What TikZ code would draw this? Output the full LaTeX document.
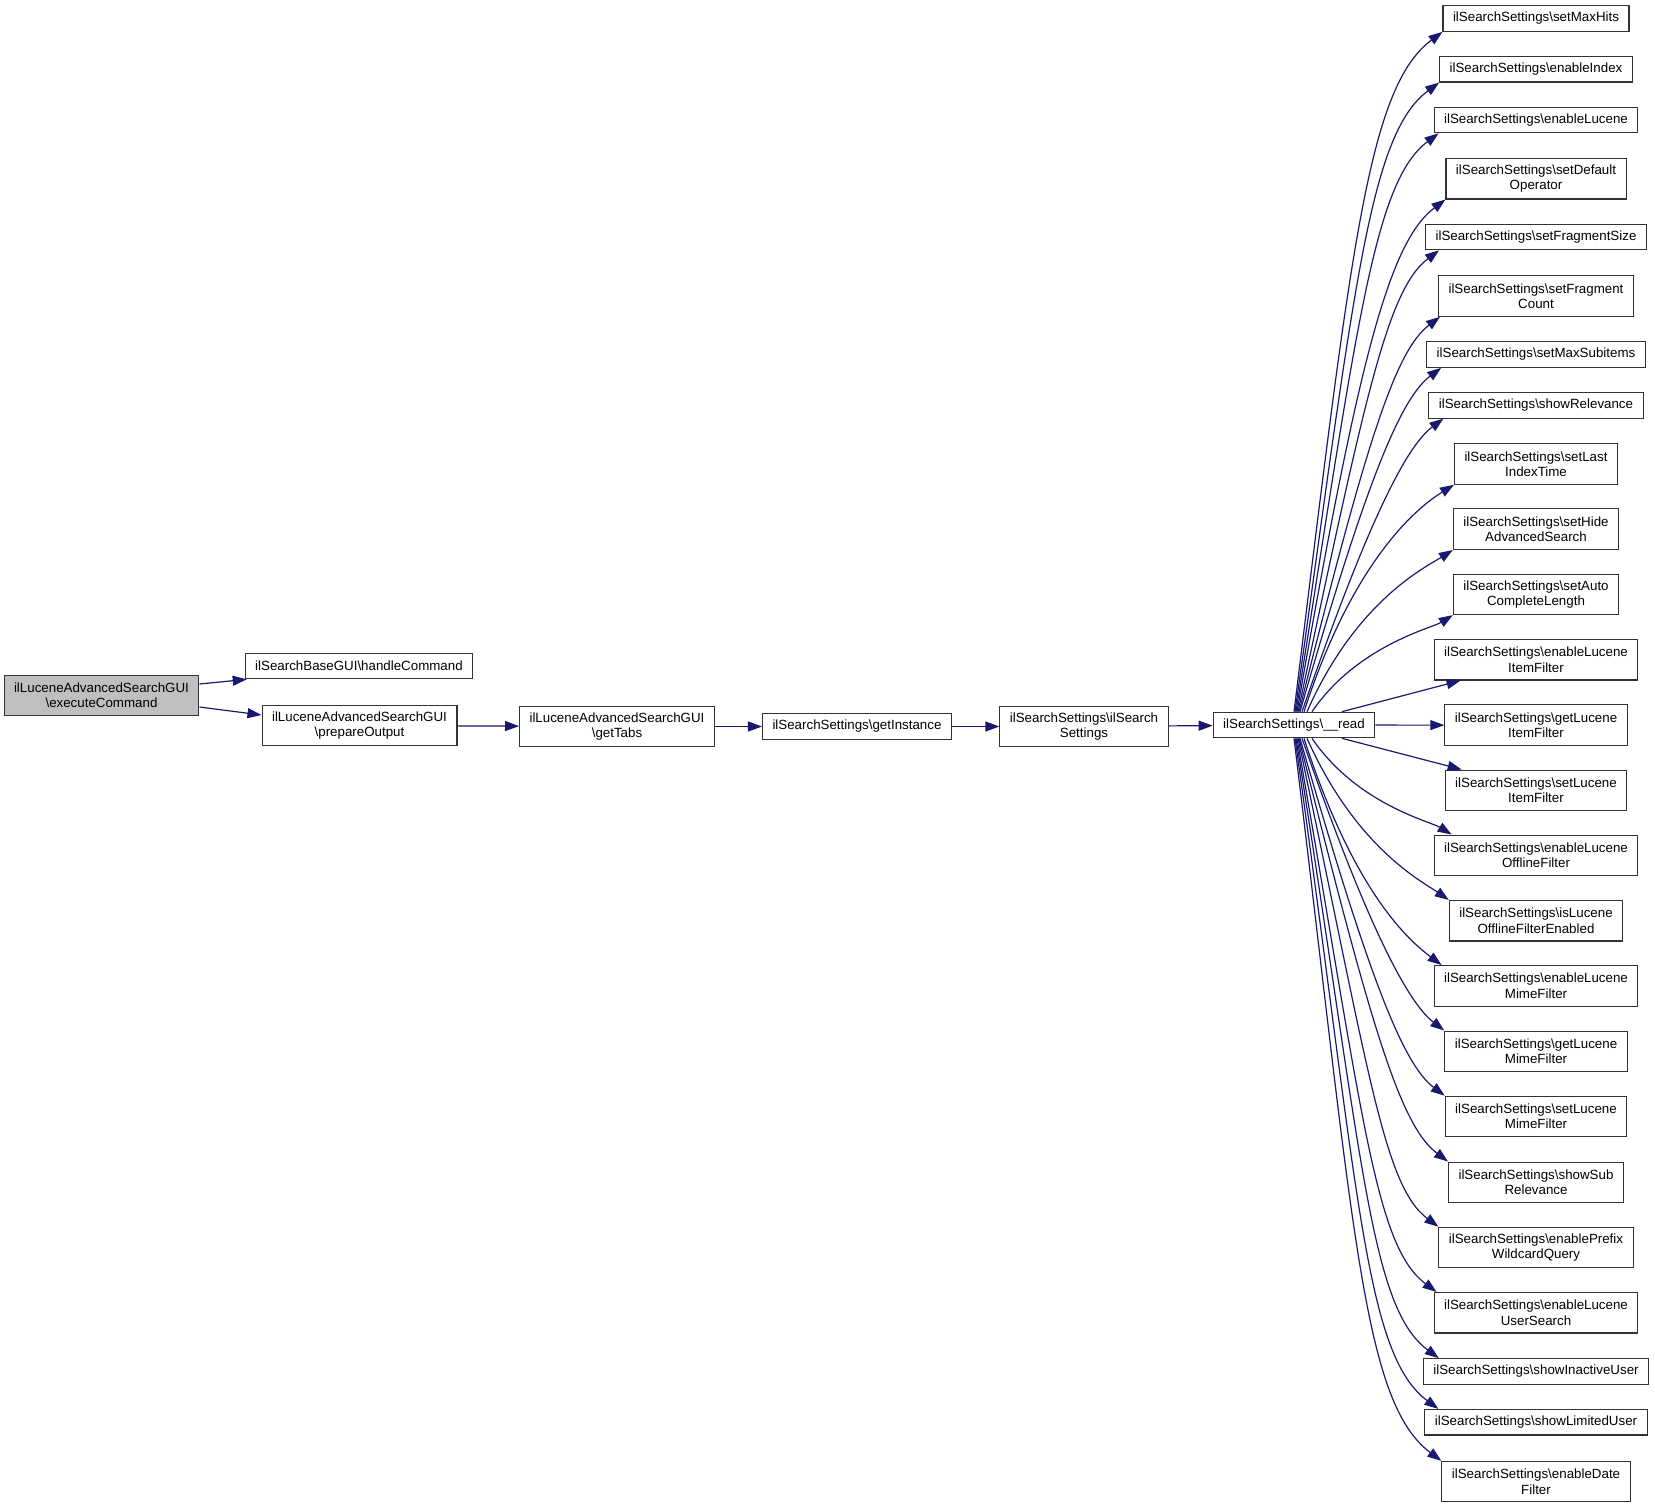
\documentclass[tikz,border=0pt]{standalone}
\usepackage{fontspec}
\setmainfont{Liberation Sans}
\usetikzlibrary{arrows.meta,calc}

\definecolor{callblue}{HTML}{191970}
\definecolor{rootgray}{HTML}{BFBFBF}

\begin{document}
\begin{tikzpicture}[x=0.75pt, y=-0.75pt,
    fn/.style={draw=black!80, line width=0.8pt, align=center, inner xsep=7.5pt, inner ysep=2pt,
      minimum height=19.2pt, font=\fontsize{10}{11.5}\selectfont},
    fn2/.style={fn, minimum height=30.4pt},
    call/.style={draw=callblue, line width=0.9pt, -{Triangle[length=10.5pt,width=7.5pt]}}]

    \useasboundingbox (0,0) rectangle (1655,1507);

    % Draw the caller and its two callees
    \node[fn2, fill=rootgray] (exec) at (101.5,695.5) {ilLuceneAdvancedSearchGUI\\\textbackslash executeCommand};
    \node[fn] (handle) at (359,666) {ilSearchBaseGUI\textbackslash handleCommand};
    \node[fn2] (prepare) at (359.5,725.5) {ilLuceneAdvancedSearchGUI\\\textbackslash prepareOutput};

    % Draw the chain down to __read
    \node[fn2] (tabs) at (617,726.5) {ilLuceneAdvancedSearchGUI\\\textbackslash getTabs};
    \node[fn] (inst) at (857,726.5) {ilSearchSettings\textbackslash getInstance};
    \node[fn2] (ctor) at (1084,726.5) {ilSearchSettings\textbackslash ilSearch\\Settings};
    \node[fn] (read) at (1294,725) {ilSearchSettings\textbackslash \_\_read};

    % Draw the column of settings methods
    \foreach \n/\y/\h/\lbl in {
      setMaxHits/18.5/19.2/{ilSearchSettings\textbackslash setMaxHits},
      enableIndex/69.2/19.2/{ilSearchSettings\textbackslash enableIndex},
      enableLucene/120/19.2/{ilSearchSettings\textbackslash enableLucene},
      setDefaultOperator/178.7/30.4/{ilSearchSettings\textbackslash setDefault\\Operator},
      setFragmentSize/237/19.2/{ilSearchSettings\textbackslash setFragmentSize},
      setFragmentCount/296/30.4/{ilSearchSettings\textbackslash setFragment\\Count},
      setMaxSubitems/354.5/19.2/{ilSearchSettings\textbackslash setMaxSubitems},
      showRelevance/405.3/19.2/{ilSearchSettings\textbackslash showRelevance},
      setLastIndexTime/464/30.4/{ilSearchSettings\textbackslash setLast\\IndexTime},
      setHideAdvancedSearch/529.2/30.4/{ilSearchSettings\textbackslash setHide\\AdvancedSearch},
      setAutoCompleteLength/594.3/30.4/{ilSearchSettings\textbackslash setAuto\\CompleteLength},
      enableLuceneItemFilter/659.7/30.4/{ilSearchSettings\textbackslash enableLucene\\ItemFilter},
      getLuceneItemFilter/725.2/30.4/{ilSearchSettings\textbackslash getLucene\\ItemFilter},
      setLuceneItemFilter/790.3/30.4/{ilSearchSettings\textbackslash setLucene\\ItemFilter},
      enableLuceneOfflineFilter/855.3/30.4/{ilSearchSettings\textbackslash enableLucene\\OfflineFilter},
      isLuceneOfflineFilterEnabled/920.7/30.4/{ilSearchSettings\textbackslash isLucene\\OfflineFilterEnabled},
      enableLuceneMimeFilter/985.8/30.4/{ilSearchSettings\textbackslash enableLucene\\MimeFilter},
      getLuceneMimeFilter/1051.3/30.4/{ilSearchSettings\textbackslash getLucene\\MimeFilter},
      setLuceneMimeFilter/1116.5/30.4/{ilSearchSettings\textbackslash setLucene\\MimeFilter},
      showSubRelevance/1182.3/30.4/{ilSearchSettings\textbackslash showSub\\Relevance},
      enablePrefixWildcardQuery/1247.5/30.4/{ilSearchSettings\textbackslash enablePrefix\\WildcardQuery},
      enableLuceneUserSearch/1312.7/30.4/{ilSearchSettings\textbackslash enableLucene\\UserSearch},
      showInactiveUser/1371.5/19.2/{ilSearchSettings\textbackslash showInactiveUser},
      showLimitedUser/1422.2/19.2/{ilSearchSettings\textbackslash showLimitedUser},
      enableDateFilter/1481.6/30.4/{ilSearchSettings\textbackslash enableDate\\Filter}}
      \node[fn, minimum height=\h pt] (\n) at (1536,\y) {\lbl};

    % Draw the calls along the chain
    \draw[call] ($(exec.east)+(0,-11.5)$) -- ($(handle.south west)+(2,0)$);
    \draw[call] ($(exec.east)+(0,11.5)$) -- ($(prepare.west)+(0,-10.5)$);
    \draw[call] (prepare) -- (tabs);
    \draw[call] (tabs) -- (inst);
    \draw[call] (inst) -- (ctor);
    \draw[call] (ctor) -- (read);

    % Draw the three straight calls out of __read
    \draw[call] (read) -- (getLuceneItemFilter);
    \draw[call] ($(read.north)+(48,0)$) -- ($(enableLuceneItemFilter.south west)+(27,0)$);
    \draw[call] ($(read.south)+(48,0)$) -- ($(setLuceneItemFilter.north west)+(17,0)$);

    % Draw the fan of calls going up
    \foreach \n/\s/\d/\ax/\ay/\bx/\by in {
      setMaxHits/0/0/57/-463/-75/56,
      enableIndex/1/0/60/-428/-70/52,
      enableLucene/2/5/62/-394/-64/48,
      setDefaultOperator/3/0/61/-349/-57/43,
      setFragmentSize/4/14/67/-314/-52/39,
      setFragmentCount/5/2/67/-269/-45/34,
      setMaxSubitems/6/15/67/-234/-40/30,
      showRelevance/8/15/69/-200/-35/26,
      setLastIndexTime/10/0/50/-155/-34/21,
      setHideAdvancedSearch/13/0/49/-111/-27/17,
      setAutoCompleteLength/18/0/45/-66/-21/13}
      \draw[call] ($(read.north)+(\s,0)$) .. controls +(\ax,\ay) and +(\bx,\by) .. ($(\n.south west)+(\d,0)$);

    % Draw the fan of calls going down
    \foreach \n/\s/\d/\ax/\ay/\bx/\by in {
      enableLuceneOfflineFilter/18/18/45/66/-21/-13,
      isLuceneOfflineFilterEnabled/13/0/49/110/-26/-18,
      enableLuceneMimeFilter/10/8/50/155/-32/-24,
      getLuceneMimeFilter/8/0/69/199/-34/-26,
      setLuceneMimeFilter/6/0/70/244/-41/-31,
      showSubRelevance/5/0/72/289/-48/-36,
      enablePrefixWildcardQuery/4/0/71/333/-55/-41,
      enableLuceneUserSearch/3/3/66/377/-62/-46,
      showInactiveUser/2/16/67/422/-69/-51,
      showLimitedUser/1/14/64/456/-74/-55,
      enableDateFilter/0/0/60/492/-79/-59}
      \draw[call] ($(read.south)+(\s,0)$) .. controls +(\ax,\ay) and +(\bx,\by) .. ($(\n.north west)+(\d,0)$);
\end{tikzpicture}
\end{document}
